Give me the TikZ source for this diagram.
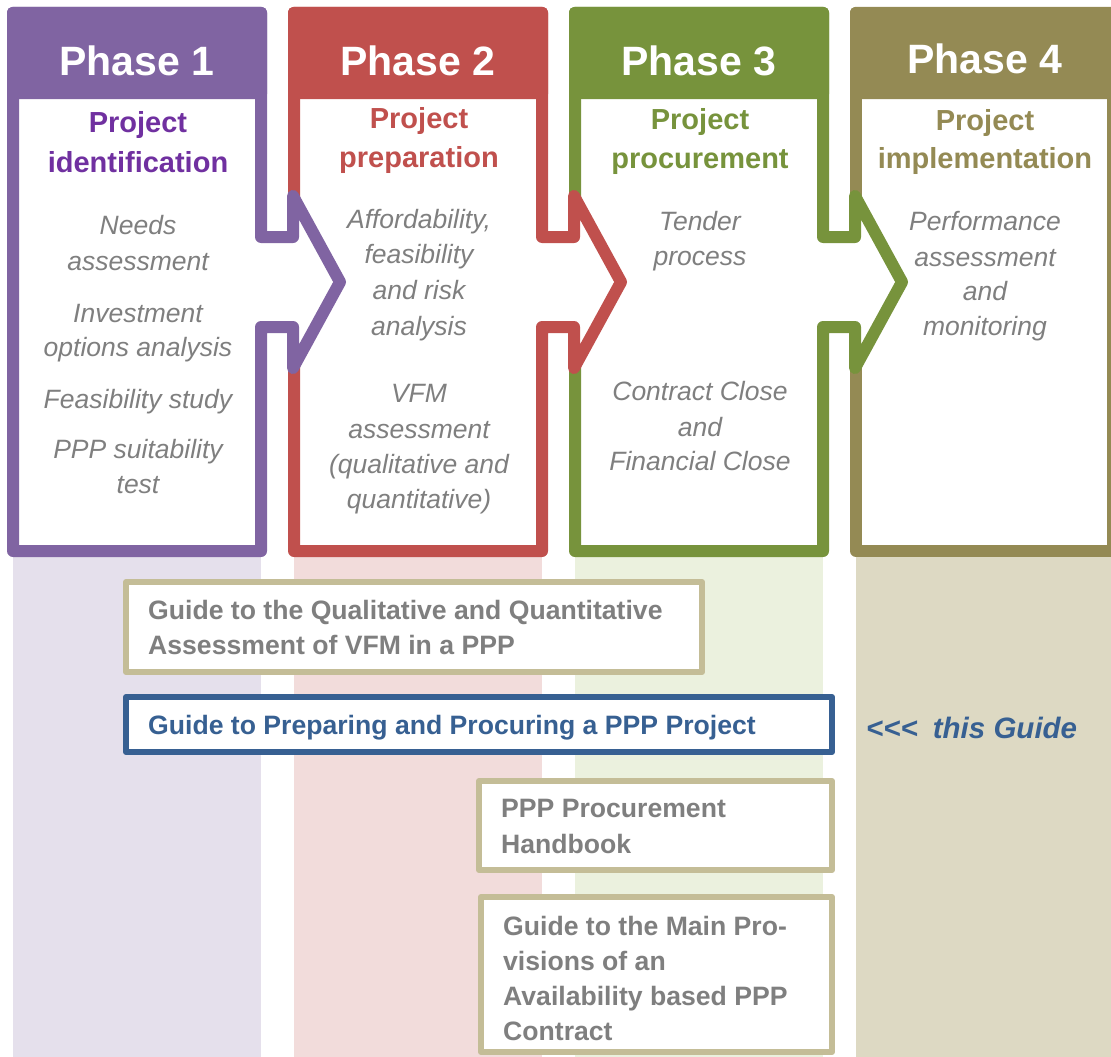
\documentclass[tikz,border=0pt]{standalone}
\usepackage{fontspec}
\setmainfont{Liberation Sans}
\definecolor{pone}{HTML}{8064A2}
\definecolor{ponetitle}{HTML}{7030A0}
\definecolor{ponebg}{HTML}{E5E0EC}
\definecolor{ptwo}{HTML}{C0504D}
\definecolor{ptwobg}{HTML}{F2DCDB}
\definecolor{pthree}{HTML}{77933C}
\definecolor{pthreebg}{HTML}{EBF1DE}
\definecolor{pfour}{HTML}{948A54}
\definecolor{pfourbg}{HTML}{DDD9C3}
\definecolor{bodygray}{HTML}{7F7F7F}
\definecolor{guideborder}{HTML}{C4BD97}
\definecolor{guideblue}{HTML}{376092}
\begin{document}
\begin{tikzpicture}[x=1pt,y=-1pt,
  frame/.style={line width=12pt,line join=round,fill=white,draw=#1},
  phaselabel/.style={anchor=base,inner sep=0pt,text=white,font=\fontsize{41}{41}\selectfont\bfseries},
  titleline/.style={anchor=base,inner sep=0pt,font=\fontsize{29}{29}\selectfont\bfseries},
  bodyline/.style={anchor=base,inner sep=0pt,text=bodygray,font=\fontsize{26.5}{26.5}\selectfont\itshape},
  guidebox/.style={line width=6pt,line join=round,fill=white,draw=#1},
  guidetext/.style={anchor=base west,inner sep=0pt,text=bodygray,font=\fontsize{26.6}{26.6}\selectfont\bfseries},
  bluetext/.style={anchor=base west,inner sep=0pt,text=guideblue,font=\fontsize{26.6}{26.6}\selectfont\bfseries}]
\useasboundingbox (0,0) rectangle (1111,1057);
\clip (0,0) rectangle (1111,1057);

% tinted columns below the phases
\fill[ponebg] (13,551) rectangle (261,1057);
\fill[ptwobg] (294,551) rectangle (542,1057);
\fill[pthreebg] (575,551) rectangle (823,1057);
\fill[pfourbg] (856,551) rectangle (1111,1057);

% phase 4
\path[frame=pfour] (856,13) -- (856,551) -- (1113,551) -- (1113,13) -- cycle;
\fill[pfour,rounded corners=5pt] (850,7) rectangle (1119,99);
% phase 3
\path[frame=pthree] (575,13) -- (575,551) -- (823,551) -- (823,327) -- (855,327)
  -- (855,368) -- (902,282) -- (855,196) -- (855,237) -- (823,237) -- (823,13) -- cycle;
\fill[pthree,rounded corners=5pt] (569,7) rectangle (829,99);
% phase 2
\path[frame=ptwo] (294,13) -- (294,551) -- (542,551) -- (542,327) -- (574,327)
  -- (574,368) -- (621,282) -- (574,196) -- (574,237) -- (542,237) -- (542,13) -- cycle;
\fill[ptwo,rounded corners=5pt] (288,7) rectangle (548,99);
% phase 1
\path[frame=pone] (13,13) -- (13,551) -- (261,551) -- (261,327) -- (293,327)
  -- (293,368) -- (340,282) -- (293,196) -- (293,237) -- (261,237) -- (261,13) -- cycle;
\fill[pone,rounded corners=5pt] (7,7) rectangle (267,99);

% phase headings
\node[phaselabel] (ph1) at (137,75) {Phase 1};
\node[phaselabel] (ph2) at (418,75) {Phase 2};
\node[phaselabel] (ph3) at (699,75) {Phase 3};
\node[phaselabel] (ph4) at (985,74) {Phase 4};

% phase titles
\node[titleline,text=ponetitle] (t1a) at (138,132) {Project};
\node[titleline,text=ponetitle] (t1b) at (138,172) {identification};
\node[titleline,text=ptwo] (t2a) at (419,128) {Project};
\node[titleline,text=ptwo] (t2b) at (419,167) {preparation};
\node[titleline,text=pthree] (t3a) at (700,129) {Project};
\node[titleline,text=pthree] (t3b) at (700,168) {procurement};
\node[titleline,text=pfour] (t4a) at (985,130) {Project};
\node[titleline,text=pfour] (t4b) at (985,168) {implementation};

% phase 1 activities
\node[bodyline] (b1a) at (138,234) {Needs};
\node[bodyline] (b1b) at (138,270) {assessment};
\node[bodyline] (b1c) at (138,322) {Investment};
\node[bodyline] (b1d) at (138,356) {options analysis};
\node[bodyline] (b1e) at (138,408) {Feasibility study};
\node[bodyline] (b1f) at (138,458) {PPP suitability};
\node[bodyline] (b1g) at (138,493) {test};

% phase 2 activities
\node[bodyline] (b2a) at (419,228) {Affordability,};
\node[bodyline] (b2b) at (419,263) {feasibility};
\node[bodyline] (b2c) at (419,299) {and risk};
\node[bodyline] (b2d) at (419,335) {analysis};
\node[bodyline] (b2e) at (419,402) {VFM};
\node[bodyline] (b2f) at (419,438) {assessment};
\node[bodyline] (b2g) at (419,473) {(qualitative and};
\node[bodyline] (b2h) at (419,508) {quantitative)};

% phase 3 activities
\node[bodyline] (b3a) at (700,230) {Tender};
\node[bodyline] (b3b) at (700,265) {process};
\node[bodyline] (b3c) at (700,400) {Contract Close};
\node[bodyline] (b3d) at (700,436) {and};
\node[bodyline] (b3e) at (700,470) {Financial Close};

% phase 4 activities
\node[bodyline] (b4a) at (985,230) {Performance};
\node[bodyline] (b4b) at (985,266) {assessment};
\node[bodyline] (b4c) at (985,300) {and};
\node[bodyline] (b4d) at (985,335) {monitoring};

% guides
\path[guidebox=guideborder] (126,582) rectangle (702,672);
\node[guidetext] (g1a) at (148,619) {Guide to the Qualitative and Quantitative};
\node[guidetext] (g1b) at (148,654) {Assessment of VFM in a PPP};

\path[guidebox=guideblue] (126,697) rectangle (832,752);
\node[bluetext] (g2) at (148,734) {Guide to Preparing and Procuring a PPP Project};
\node[bluetext,font=\fontsize{29.5}{29.5}\selectfont\bfseries\itshape] (this) at (866,738) {<\kern0pt<\kern0pt<\hspace{15pt}this Guide};

\path[guidebox=guideborder] (479,781) rectangle (832,870);
\node[guidetext] (g3a) at (501,817) {PPP Procurement};
\node[guidetext] (g3b) at (501,853) {Handbook};

\path[guidebox=guideborder] (481,897) rectangle (832,1052);
\node[guidetext] (g4a) at (503,935) {Guide to the Main Pro-};
\node[guidetext] (g4b) at (503,970) {visions of an};
\node[guidetext] (g4c) at (503,1005) {Availability based PPP};
\node[guidetext] (g4d) at (503,1040) {Contract};
\end{tikzpicture}
\end{document}
